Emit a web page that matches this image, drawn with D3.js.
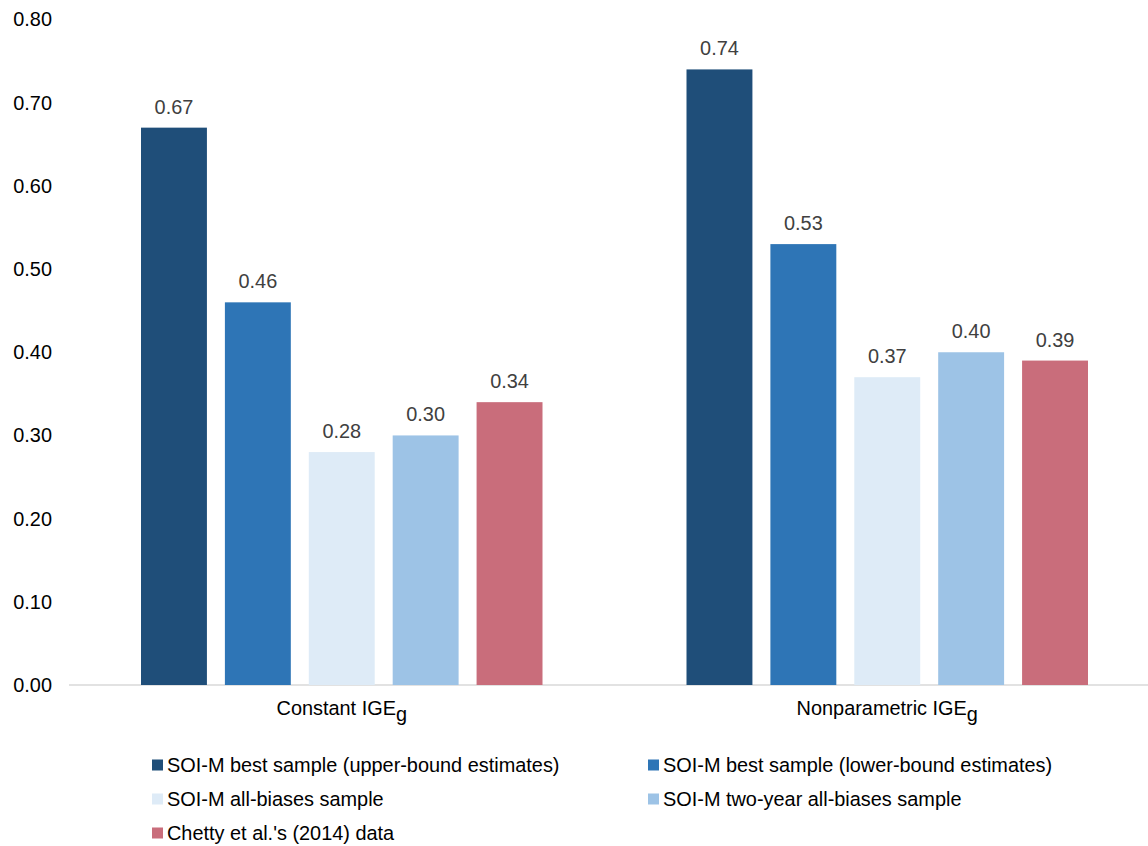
<!DOCTYPE html>
<html>
<head>
<meta charset="utf-8">
<script src="https://cdn.jsdelivr.net/npm/d3@7"></script>
<style>
  body { margin: 0; background: #fff; }
  text { font-family: "Liberation Sans", Arial, sans-serif; }
</style>
</head>
<body>
<div id="chart"></div>
<script>
// data
const groups = ["Constant", "Nonparametric"];
const series = [
  "SOI-M best sample (upper-bound estimates)",
  "SOI-M best sample (lower-bound estimates)",
  "SOI-M all-biases sample",
  "SOI-M two-year all-biases sample",
  "Chetty et al.'s (2014) data"
];
const colors = ["#1F4E79", "#2E75B6", "#DEEBF7", "#9DC3E6", "#C96D7B"];
const values = [
  [0.67, 0.46, 0.28, 0.30, 0.34],
  [0.74, 0.53, 0.37, 0.40, 0.39]
];
const yTicks = [0, 0.1, 0.2, 0.3, 0.4, 0.5, 0.6, 0.7, 0.8];

const W = 1148, H = 846;
const fs = 19.9;
const svg = d3.select("#chart").append("svg")
  .attr("width", W).attr("height", H);

// set up scales
const x0 = d3.scaleBand().domain(groups).range([69, 1160]);
const x1 = d3.scaleBand().domain(series)
  .range([72, x0.bandwidth() - 72])
  .paddingInner(18 / 84);
const y = d3.scaleLinear().domain([0, 0.8]).range([685, 19.5]);

// y axis labels (no line)
const yAxis = svg.append("g")
  .attr("transform", "translate(52,0)")
  .call(d3.axisLeft(y).tickValues(yTicks).tickFormat(d3.format(".2f")).tickSize(0).tickPadding(0));
yAxis.select(".domain").remove();
yAxis.selectAll("text")
  .attr("font-size", fs).attr("fill", "#000")
  .style("font-family", "'Liberation Sans', Arial, sans-serif");

// baseline
svg.append("line")
  .attr("x1", 69).attr("x2", W)
  .attr("y1", y(0)).attr("y2", y(0))
  .attr("stroke", "#D9D9D9").attr("stroke-width", 1.5);

// bars
const g = svg.selectAll(".grp")
  .data(groups)
  .enter().append("g")
  .attr("transform", d => "translate(" + x0(d) + ",0)");

g.selectAll("rect")
  .data((d, i) => values[i].map((v, j) => ({ s: series[j], v: v, c: colors[j] })))
  .enter().append("rect")
  .attr("x", d => x1(d.s))
  .attr("y", d => y(d.v))
  .attr("width", x1.bandwidth())
  .attr("height", d => y(0) - y(d.v))
  .attr("fill", d => d.c);

g.selectAll(".val")
  .data((d, i) => values[i].map((v, j) => ({ s: series[j], v: v })))
  .enter().append("text")
  .attr("x", d => x1(d.s) + x1.bandwidth() / 2)
  .attr("y", d => y(d.v) - 14)
  .attr("text-anchor", "middle")
  .attr("font-size", fs)
  .attr("fill", "#404040")
  .text(d => d3.format(".2f")(d.v));

// category labels with subscript
const cat = svg.selectAll(".cat")
  .data(groups)
  .enter().append("text")
  .attr("x", d => x0(d) + x0.bandwidth() / 2)
  .attr("y", 715)
  .attr("text-anchor", "middle")
  .attr("font-size", fs)
  .attr("fill", "#000");
cat.append("tspan").text(d => d + " IGE");
cat.append("tspan").attr("dy", 6).text("g");

// legend
const legPos = [[152, 765], [648, 765], [152, 799], [648, 799], [152, 833]];
const leg = svg.selectAll(".leg")
  .data(series)
  .enter().append("g")
  .attr("transform", (d, i) => "translate(" + legPos[i][0] + "," + legPos[i][1] + ")");
leg.append("rect")
  .attr("x", 0).attr("y", -5.5)
  .attr("width", 11).attr("height", 11)
  .attr("fill", (d, i) => colors[i]);
leg.append("text")
  .attr("x", 15).attr("y", 7)
  .attr("font-size", fs)
  .attr("fill", "#000")
  .text(d => d);
</script>
</body>
</html>
